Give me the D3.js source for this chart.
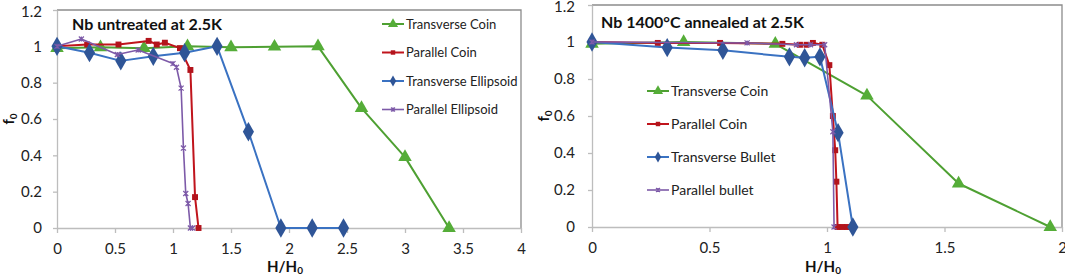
<!DOCTYPE html>
<html>
<head>
<meta charset="utf-8">
<script src="https://cdn.jsdelivr.net/npm/d3@7"></script>
<style>
  body { margin: 0; background: #fff; }
  svg { display: block; font-family: Lato, "Open Sans", sans-serif; }
</style>
</head>
<body>
<svg id="chart" width="1065" height="275"></svg>
<script>
// ---- data ----
// left panel: Nb untreated at 2.5K
const leftTcX = [0, 0.375, 0.75, 1.125, 1.5, 1.875, 2.25, 2.625, 3.0, 3.38]
const leftTcY = [0.99, 0.995, 0.99, 1.0, 0.995, 0.998, 1.0, 0.66, 0.39, 0]
const leftPcX = [0, 0.26, 0.53, 0.79, 0.86, 0.93, 1.06, 1.15, 1.19, 1.22]
const leftPcY = [1.0, 1.01, 1.01, 1.03, 1.01, 1.02, 0.99, 0.87, 0.17, 0]
const leftTeX = [0, 0.28, 0.55, 0.83, 1.1, 1.38, 1.65, 1.93, 2.2, 2.47]
const leftTeY = [1.0, 0.965, 0.92, 0.945, 0.965, 1.0, 0.53, 0, 0, 0]
const leftPeX = [0, 0.21, 0.52, 0.70, 1.0, 1.03, 1.07, 1.09, 1.11, 1.13, 1.15, 1.17]
const leftPeY = [1.0, 1.04, 0.955, 0.98, 0.905, 0.885, 0.77, 0.44, 0.19, 0.135, 0, 0]

// right panel: Nb 1400°C annealed at 2.5K
const rightTcX = [0, 0.39, 0.78, 1.17, 1.56, 1.95]
const rightTcY = [0.99, 1.0, 0.99, 0.71, 0.235, 0]
const rightPcX = [0, 0.28, 0.545, 0.81, 0.885, 0.913, 0.94, 0.98, 1.01, 1.025, 1.035, 1.04, 1.045, 1.065, 1.085]
const rightPcY = [1.0, 0.995, 0.995, 0.99, 0.985, 0.985, 0.995, 0.985, 0.875, 0.6, 0.415, 0.245, 0, 0, 0]
const rightTbX = [0, 0.32, 0.557, 0.84, 0.905, 0.97, 1.047, 1.11]
const rightTbY = [1.0, 0.97, 0.955, 0.92, 0.915, 0.92, 0.51, 0]
const rightPbX = [0, 0.66, 0.87, 0.93, 0.99, 1.025, 1.03]
const rightPbY = [1.0, 0.995, 0.985, 0.985, 0.985, 0.515, 0]

const leftNames = ['Transverse Coin', 'Parallel Coin', 'Transverse Ellipsoid', 'Parallel Ellipsoid']
const rightNames = ['Transverse Coin', 'Parallel Coin', 'Transverse Bullet', 'Parallel bullet']
const leftXTicks = [0, 0.5, 1, 1.5, 2, 2.5, 3, 3.5, 4]
const rightXTicks = [0, 0.5, 1, 1.5, 2]
const yTicks = [0, 0.2, 0.4, 0.6, 0.8, 1, 1.2]

// series styles (green triangle, red square, blue diamond, purple x)
const styles = [
  {line: '#4ea032', fill: '#55ad38', marker: 'triangle', width: 2},
  {line: '#c0141c', fill: '#b3141c', marker: 'square', width: 2},
  {line: '#3a72c2', fill: '#2f5597', marker: 'diamond', width: 2},
  {line: '#7d5aa8', fill: '#7d5aa8', marker: 'cross', width: 1.6}
]

const zip = (xs, ys) => xs.map((x, i) => ({x: x, y: ys[i]}))

const svg = d3.select('#chart')

function drawMarker(g, type, size) {
  if (type === 'cross') {
    const s = size * 0.28
    g.append('path')
      .attr('d', `M${-s},${-s}L${s},${s}M${-s},${s}L${s},${-s}M0,${-s}L0,${s}`)
      .attr('stroke', '#7d5aa8').attr('stroke-width', 1.2).attr('fill', 'none')
    return
  }
  const sym = {triangle: d3.symbolTriangle, square: d3.symbolSquare, diamond: d3.symbolDiamond}[type]
  g.append('path').attr('d', d3.symbol(sym, size * size * 0.55)())
}

function drawPanel(cfg) {
  const x = d3.scaleLinear().domain(cfg.xDomain).range(cfg.xRange)
  const y = d3.scaleLinear().domain([0, 1.2]).range(cfg.yRange)
  const g = svg.append('g')

  // plot area frame (top & right)
  g.append('path')
    .attr('d', `M${x.range()[0]},${y(1.2)}H${x.range()[1]}V${y(0)}`)
    .attr('fill', 'none').attr('stroke', '#8c8c8c').attr('stroke-width', 1.3)

  const xAxis = g.append('g')
    .attr('transform', `translate(0,${y(0)})`)
    .call(d3.axisBottom(x).tickValues(cfg.xTicks).tickSize(5).tickSizeOuter(0).tickPadding(10).tickFormat(d3.format('~g')))
  const yAxis = g.append('g')
    .attr('transform', `translate(${x.range()[0]},0)`)
    .call(d3.axisLeft(y).tickValues(yTicks).tickSize(4).tickSizeOuter(0).tickPadding(cfg.yPad).tickFormat(d3.format('~g')))
  ;[xAxis, yAxis].forEach(a => {
    a.select('.domain').attr('stroke', '#bdbdbd').attr('stroke-width', 1.3)
    a.selectAll('.tick line').attr('stroke', '#bdbdbd').attr('stroke-width', 1.3)
    a.selectAll('.tick text').attr('font-size', 15).attr('fill', '#222').attr('font-family', 'Lato, sans-serif')
  })
  // keep the top "1.2" label inside the picture
  yAxis.selectAll('.tick text').filter(d => d === 1.2).attr('dy', '0.45em')

  // series
  const line = d3.line().x(d => x(d.x)).y(d => y(d.y))
  cfg.series.forEach((s, i) => {
    const st = styles[i]
    g.append('path').datum(s)
      .attr('d', line).attr('fill', 'none')
      .attr('stroke', st.line).attr('stroke-width', st.width).attr('stroke-linejoin', 'round')
    const msize = {triangle: 12, square: 8, diamond: 14, cross: 9}[st.marker]
    g.selectAll(null).data(s).join('g')
      .attr('transform', d => `translate(${x(d.x)},${y(d.y)})`)
      .attr('fill', st.fill)
      .each(function () { drawMarker(d3.select(this), st.marker, msize) })
  })

  // title
  g.append('text')
    .attr('x', cfg.titleX).attr('y', cfg.titleY)
    .attr('font-size', 16).attr('font-weight', 'bold').attr('fill', '#111')
    .text(cfg.title)

  // axis titles
  const xt = g.append('text')
    .attr('x', (x.range()[0] + x.range()[1]) / 2 - 4).attr('y', 272)
    .attr('text-anchor', 'middle').attr('font-size', 15).attr('font-weight', 'bold').attr('fill', '#111')
  xt.append('tspan').text('H/H')
  xt.append('tspan').attr('font-size', 10).attr('dy', 2).text('0')

  const yt = g.append('text')
    .attr('transform', `translate(${cfg.fX},${(y(0) + y(1.2)) / 2}) rotate(-90)`)
    .attr('text-anchor', 'middle').attr('font-size', 15).attr('font-weight', 'bold').attr('fill', '#111')
  yt.append('tspan').text('f')
  yt.append('tspan').attr('font-size', 10).attr('dy', 3).text('0')

  // legend
  const leg = g.append('g').attr('transform', `translate(${cfg.legX},${cfg.legY})`)
  cfg.names.forEach((name, i) => {
    const st = styles[i]
    const row = leg.append('g').attr('transform', `translate(0,${i * cfg.legStep})`)
    row.append('line').attr('x1', 0).attr('x2', 22)
      .attr('stroke', st.line).attr('stroke-width', st.width)
    const m = row.append('g').attr('transform', 'translate(11,0)').attr('fill', st.fill)
    drawMarker(m, st.marker, {triangle: 9, square: 6, diamond: 8, cross: 7}[st.marker])
    row.append('text').attr('x', 24).attr('dy', '0.35em')
      .attr('font-size', cfg.legFont).attr('fill', '#222')
      .text(name)
  })
}

drawPanel({
  xDomain: [0, 4], xRange: [57, 521], yRange: [228, 10],
  xTicks: leftXTicks, yPad: 11,
  series: [zip(leftTcX, leftTcY), zip(leftPcX, leftPcY), zip(leftTeX, leftTeY), zip(leftPeX, leftPeY)],
  names: leftNames,
  title: 'Nb untreated at 2.5K', titleX: 72, titleY: 30,
  fX: 14,
  legX: 382, legY: 24, legStep: 28.5, legFont: 13
})

drawPanel({
  xDomain: [0, 2], xRange: [592, 1062], yRange: [227, 5],
  xTicks: rightXTicks, yPad: 13,
  series: [zip(rightTcX, rightTcY), zip(rightPcX, rightPcY), zip(rightTbX, rightTbY), zip(rightPbX, rightPbY)],
  names: rightNames,
  title: 'Nb 1400°C annealed at 2.5K', titleX: 601, titleY: 28,
  fX: 549,
  legX: 647, legY: 91, legStep: 33, legFont: 14
})
</script>
</body>
</html>
